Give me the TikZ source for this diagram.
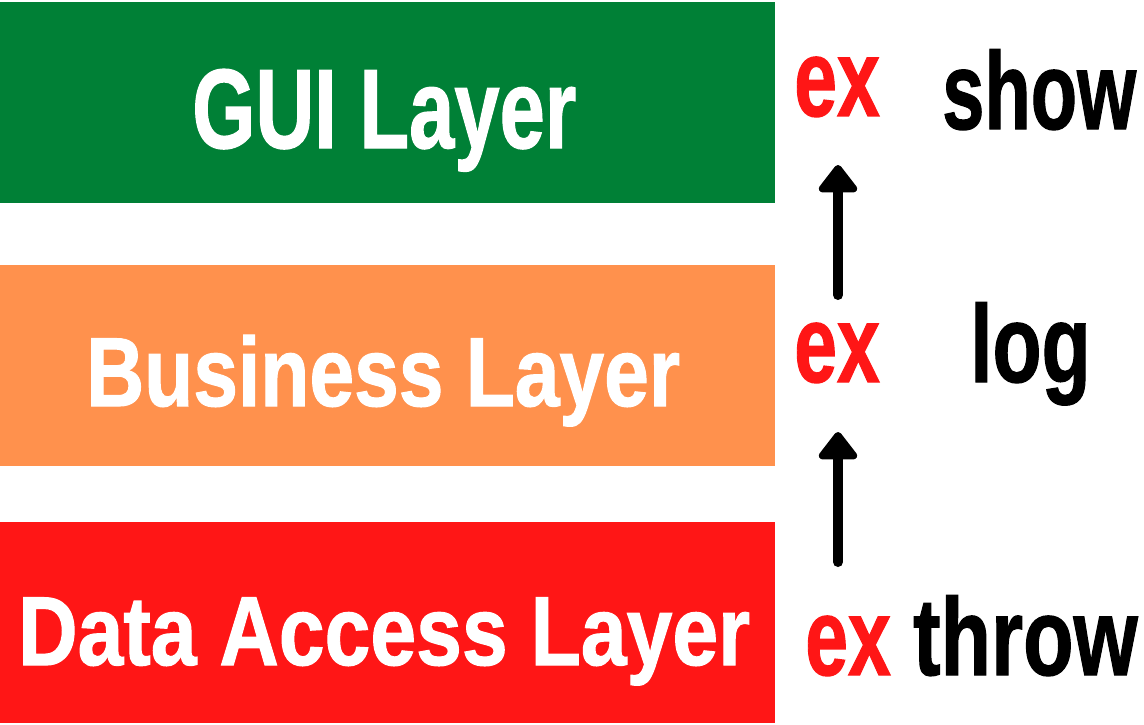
\documentclass[tikz,border=0pt]{standalone}
\usepackage{fontspec}
\setmainfont{Liberation Sans}[BoldFeatures={FakeBold=1.2}]
\usetikzlibrary{arrows.meta}
\definecolor{gGreen}{HTML}{008036}
\definecolor{gOrange}{HTML}{FF914D}
\definecolor{gRed}{HTML}{FF1616}
\newcommand{\sqz}[2]{\scalebox{#1}[1]{#2}}
\begin{document}
\begin{tikzpicture}[x=1pt,y=-1pt,
  layerbox/.style={fill=#1,draw=none,anchor=north west,inner sep=0,minimum width=775pt,minimum height=201pt},
  bigtxt/.style={anchor=base west,inner sep=0,text=white,font=\bfseries\fontsize{98}{100}\selectfont},
  extxt/.style={anchor=base west,inner sep=0,text=gRed,font=\bfseries\fontsize{110}{112}\selectfont},
  acttxt/.style={anchor=base west,inner sep=0,text=black,font=\bfseries\fontsize{110}{112}\selectfont},
  uparrow/.style={line width=10pt,line cap=round,-{Triangle[width=44pt,length=30pt,round]}}]
\useasboundingbox (0,0) rectangle (1144,725);
% layers
\node[layerbox=gGreen] (gui) at (0,2) {};
\node[layerbox=gOrange] (bus) at (0,265) {};
\node[layerbox=gRed] (dal) at (0,522) {};
% layer titles
\node[bigtxt,font=\bfseries\fontsize{113}{115}\selectfont] (guit) at (192,148) {\sqz{0.72}{GUI Layer}};
\node[bigtxt] (bust) at (86,406) {\sqz{0.82}{Business Layer}};
\node[bigtxt] (dalt) at (18,665) {\sqz{0.84}{Data Access Layer}};
% right labels
\node[extxt] (ex1) at (794,116) {\sqz{0.70}{ex}};
\node[acttxt] (show) at (942,129) {\sqz{0.69}{show}};
\node[extxt] (ex2) at (794,382) {\sqz{0.70}{ex}};
\node[acttxt] (log) at (970,382) {\sqz{0.73}{log}};
\node[extxt] (ex3) at (805,675) {\sqz{0.70}{ex}};
\node[acttxt] (throw) at (913,675) {\sqz{0.75}{throw}};
% arrows
\coordinate (a1s) at (838,295);
\coordinate (a1e) at (838,165);
\coordinate (a2s) at (838,562);
\coordinate (a2e) at (838,432);
\draw[uparrow] (a1s) -- (a1e);
\draw[uparrow] (a2s) -- (a2e);
\end{tikzpicture}
\end{document}
